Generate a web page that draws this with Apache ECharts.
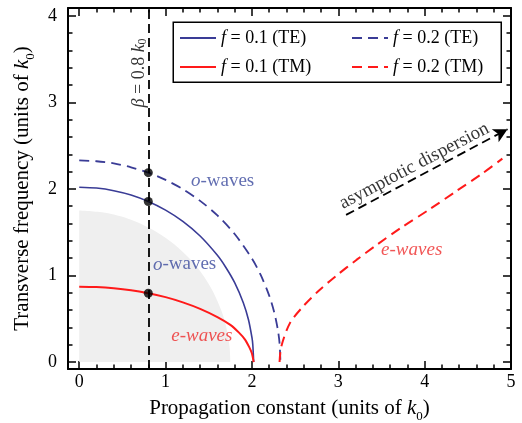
<!DOCTYPE html>
<html>
<head>
<meta charset="utf-8">
<script src="https://cdn.jsdelivr.net/npm/echarts@6/dist/echarts.min.js"></script>
<style>
  html, body { margin: 0; padding: 0; background: #fff; }
  #chart { width: 522px; height: 423px; }
</style>
</head>
<body>
<div id="chart"></div>
<script>
// tick positions
var xMajor = [0, 1, 2, 3, 4, 5];
var xMinor = [0.2, 0.4, 0.6, 0.8, 1.2, 1.4, 1.6, 1.8, 2.2, 2.4, 2.6, 2.8, 3.2, 3.4, 3.6, 3.8, 4.2, 4.4, 4.6, 4.8];
var yMajor = [0, 1, 2, 3, 4];
var yMinor = [0.2, 0.4, 0.6, 0.8, 1.2, 1.4, 1.6, 1.8, 2.2, 2.4, 2.6, 2.8, 3.2, 3.4, 3.6, 3.8];

// f = 0.1 (TE), o-waves
var te1X = [0, 0.2, 0.4, 0.6, 0.8, 1.0, 1.2, 1.4, 1.6, 1.7, 1.8, 1.9, 1.96, 2.0, 2.01, 2.02];
var te1Y = [2.02, 2.01, 1.98, 1.93, 1.855, 1.755, 1.625, 1.456, 1.233, 1.09, 0.917, 0.686, 0.489, 0.284, 0.2, 0];
// f = 0.2 (TE)
var te2X = [0, 0.2, 0.4, 0.6, 0.8, 1.0, 1.2, 1.4, 1.6, 1.8, 2.0, 2.1, 2.2, 2.26, 2.3, 2.32, 2.33];
var te2Y = [2.33, 2.32, 2.295, 2.25, 2.188, 2.104, 1.997, 1.862, 1.694, 1.479, 1.195, 1.009, 0.767, 0.567, 0.373, 0.216, 0];
// f = 0.1 (TM), e-waves
var tm1X = [0, 0.2, 0.4, 0.6, 0.8, 1.0, 1.2, 1.4, 1.6, 1.75, 1.85, 1.92, 1.97, 2.0, 2.02];
var tm1Y = [0.87, 0.866, 0.853, 0.83, 0.795, 0.75, 0.69, 0.615, 0.52, 0.43, 0.34, 0.26, 0.17, 0.10, 0];
// f = 0.2 (TM)
var tm2X = [2.32, 2.34, 2.44, 2.59, 2.78, 2.98, 3.21, 3.44, 3.74, 4.05, 4.36, 4.67, 4.9];
var tm2Y = [0, 0.18, 0.45, 0.64, 0.83, 1.00, 1.18, 1.35, 1.56, 1.76, 1.97, 2.18, 2.35];
// grey shaded region
var shadeX = [0, 0.3, 0.6, 0.9, 1.1, 1.3, 1.45, 1.55, 1.65, 1.7, 1.74, 1.75];
var shadeY = [1.75, 1.724, 1.644, 1.501, 1.361, 1.172, 0.98, 0.812, 0.583, 0.415, 0.187, 0];
// beta = 0.8 crossings
var betaX = 0.8;
var crossY = [2.188, 1.855, 0.795];
// asymptote arrow
var arrowFrom = [3.09, 1.70];
var arrowTo = [4.96, 2.69];

var FONT = '"Liberation Serif", "Times New Roman", serif';
var BLUE = '#3a3c96';
var RED = '#ff1a1a';

function zip(xs, ys) {
  return xs.map(function (x, i) { return [x, ys[i]]; });
}

function axis(dim, pos, ticks, len, main, extra) {
  var a = {
    type: 'value',
    position: pos,
    min: dim === 'x' ? -0.13 : -0.08,
    max: dim === 'x' ? 5 : 4.09,
    axisLine: { show: main, onZero: false, lineStyle: { color: '#000', width: 2 } },
    axisTick: { show: true, inside: true, length: len, customValues: ticks,
      lineStyle: { color: '#000', width: 1.5 } },
    axisLabel: { show: false },
    splitLine: { show: false },
    minorTick: { show: false }
  };
  return Object.assign(a, extra || {});
}

var nameRich = {
  t: { fontFamily: FONT, fontSize: 21, color: '#000', lineHeight: 30 },
  i: { fontFamily: FONT, fontSize: 21, fontStyle: 'italic', color: '#000', lineHeight: 30 },
  s: { fontFamily: FONT, fontSize: 13, color: '#000', verticalAlign: 'bottom', lineHeight: 14 }
};
var tickLabel = {
  show: true, fontFamily: FONT, fontSize: 18, color: '#000',
  formatter: function (v) { return '{n|' + v + '}'; },
  rich: { n: { fontFamily: FONT, fontSize: 18, color: '#000' } }
};

var xAxes = [
  axis('x', 'bottom', xMajor, 8, true, {
    axisLabel: Object.assign({ customValues: xMajor, margin: 4 }, tickLabel),
    name: '{t|Propagation constant (units of }{i|k}{s|0}{t|)}',
    nameLocation: 'middle', nameGap: 24,
    nameTextStyle: { fontFamily: FONT, rich: nameRich }
  }),
  axis('x', 'bottom', xMinor, 4.5, false),
  axis('x', 'top', xMajor, 8, true),
  axis('x', 'top', xMinor, 4.5, false)
];
var yAxes = [
  axis('y', 'left', yMajor, 8, true, {
    axisLabel: Object.assign({ customValues: yMajor, margin: 11 }, tickLabel),
    name: '{t|Transverse frequency (units of }{i|k}{s|0}{t|)}',
    nameLocation: 'middle', nameGap: 20,
    nameTextStyle: { fontFamily: FONT, rich: nameRich }
  }),
  axis('y', 'left', yMinor, 4.5, false),
  axis('y', 'right', yMajor, 8, true),
  axis('y', 'right', yMinor, 4.5, false)
];

function curve(name, xs, ys, color, width, dashed) {
  return {
    name: name, type: 'line', data: zip(xs, ys),
    symbol: 'none', smooth: 0.3, z: 3,
    lineStyle: { color: color, width: width, type: dashed ? [10, 6] : 'solid' },
    itemStyle: { color: color }
  };
}

function note(x, y, text, color, size, rotate, italic) {
  var st = italic ? 'italic' : 'normal';
  return {
    value: [x, y],
    label: {
      show: true, position: 'inside', formatter: text, rotate: rotate || 0,
      fontFamily: FONT, fontSize: size, color: color, fontStyle: st,
      rich: {
        t: { fontFamily: FONT, fontSize: size, color: color, fontStyle: st },
        i: { fontFamily: FONT, fontSize: size, color: color, fontStyle: 'italic' },
        s: { fontFamily: FONT, fontSize: 12, color: color, verticalAlign: 'bottom', lineHeight: 12 }
      }
    }
  };
}

var legendText = {
  fontFamily: FONT, fontSize: 18, color: '#000', lineHeight: 20,
  rich: {
    t: { fontFamily: FONT, fontSize: 18, color: '#000', lineHeight: 20 },
    i: { fontFamily: FONT, fontSize: 18, fontStyle: 'italic', color: '#000', lineHeight: 20 }
  }
};
function legendFmt(name) { return '{i|f}{t|' + name.slice(1) + '}'; }

var legendBase = {
  orient: 'vertical', top: 28, padding: 0, itemWidth: 36, itemHeight: 14, itemGap: 9,
  selectedMode: false, itemStyle: { opacity: 0 }, textStyle: legendText, formatter: legendFmt
};

var option = {
  animation: false,
  textStyle: { fontFamily: FONT },
  grid: { left: 68, right: 11, top: 8, bottom: 54, containLabel: false, outerBoundsMode: 'none' },
  xAxis: xAxes,
  yAxis: yAxes,
  legend: [
    Object.assign({ data: ['f = 0.1 (TE)', 'f = 0.1 (TM)'], left: 179 }, legendBase),
    Object.assign({ data: ['f = 0.2 (TE)', 'f = 0.2 (TM)'], left: 351 }, legendBase)
  ],
  graphic: [{
    type: 'rect', left: 172.5, top: 21.5, z: 10,
    shape: { width: 328, height: 60 },
    style: { fill: 'rgba(0,0,0,0)', stroke: '#000', lineWidth: 1.5 }
  }],
  series: [
    {
      type: 'line', data: zip(shadeX, shadeY), symbol: 'none', smooth: 0.3, z: 1,
      lineStyle: { width: 0 }, areaStyle: { color: '#efefef', opacity: 1 }, silent: true,
      markLine: {
        silent: true, symbol: 'none', label: { show: false },
        lineStyle: { color: '#000', width: 1.8, type: [9, 5] },
        data: [{ xAxis: betaX }]
      }
    },
    curve('f = 0.1 (TE)', te1X, te1Y, BLUE, 1.6, false),
    curve('f = 0.2 (TE)', te2X, te2Y, BLUE, 1.8, true),
    curve('f = 0.1 (TM)', tm1X, tm1Y, RED, 2, false),
    curve('f = 0.2 (TM)', tm2X, tm2Y, RED, 2, true),
    {
      type: 'scatter', symbolSize: 9, z: 5, silent: true,
      itemStyle: { color: '#000' },
      data: crossY.map(function (y) { return [betaX, y]; })
    },
    {
      type: 'scatter', symbolSize: 0, z: 6, silent: true,
      data: [
        note(0.70, 3.34, '{i|β}{t| = 0.8 }{i|k}{s|0}', '#000', 18, 90),
        note(3.88, 2.265, '{t|asymptotic dispersion}', '#000', 19, 27.7),
        note(1.66, 2.09, '{i|o}{t|-waves}', '#3b4a9e', 19),
        note(1.22, 1.127, '{i|o}{t|-waves}', '#3b4a9e', 19),
        note(1.42, 0.30, '{t|e-waves}', '#ee2a2a', 19, 0, true),
        note(3.85, 1.30, '{t|e-waves}', '#ee2a2a', 19, 0, true)
      ],
      markLine: {
        silent: true, symbol: ['none', 'arrow'], symbolSize: [11, 14],
        label: { show: false },
        lineStyle: { color: '#000', width: 1.8, type: [9, 5] },
        data: [[{ coord: arrowFrom }, { coord: arrowTo }]]
      }
    }
  ]
};

var chart = echarts.init(document.getElementById('chart'));
chart.setOption(option);
</script>
</body>
</html>
